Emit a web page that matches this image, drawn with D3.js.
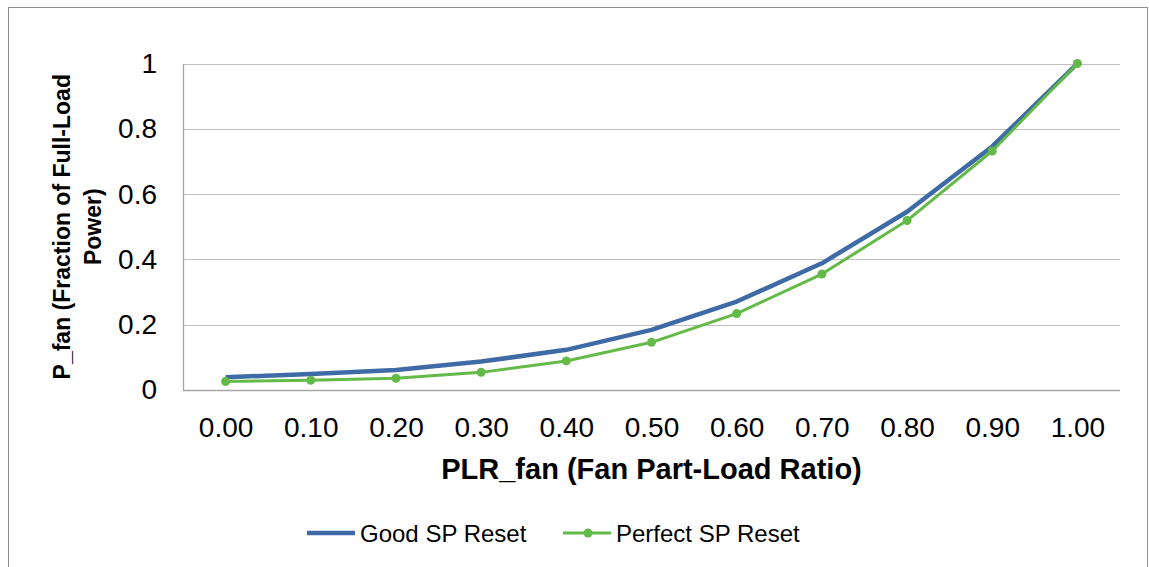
<!DOCTYPE html>
<meta charset="utf-8">
<script src="https://d3js.org/d3.v7.min.js"></script>
<style>
  body { margin: 0; background: #fff; font-family: Arial, 'Liberation Sans', sans-serif; }
  svg text { fill: #000; }
</style>
<body>
<svg id="chart" width="1149" height="567"></svg>
</body>
<script>
// chart data
var plr = ["0.00", "0.10", "0.20", "0.30", "0.40", "0.50", "0.60", "0.70", "0.80", "0.90", "1.00"];
var goodReset = [0.039, 0.049, 0.061, 0.087, 0.123, 0.184, 0.271, 0.388, 0.546, 0.746, 1.0];
var perfectReset = [0.026, 0.030, 0.036, 0.054, 0.089, 0.146, 0.234, 0.355, 0.519, 0.732, 1.0];
var yTicks = [0, 0.2, 0.4, 0.6, 0.8, 1];

var blue = "#3e6aa6", green = "#63ba48";

var svg = d3.select("#chart");

// outer chart border
svg.append("rect")
  .attr("x", 8.5).attr("y", 7.5)
  .attr("width", 1139).attr("height", 600)
  .attr("fill", "none").attr("stroke", "#8e8e8e").attr("stroke-width", 1);

var margin = {top: 63.5, left: 183, right: 1120, bottom: 390};

var x = d3.scalePoint()
    .domain(plr)
    .range([margin.left, margin.right])
    .padding(0.5);

var y = d3.scaleLinear()
    .domain([0, 1])
    .range([margin.bottom, margin.top]);

// gridlines
svg.append("g")
  .selectAll("line")
  .data(yTicks.filter(function(d) { return d > 0; }))
  .join("line")
    .attr("x1", margin.left).attr("x2", margin.right)
    .attr("y1", function(d) { return Math.round(y(d)) + 0.5; })
    .attr("y2", function(d) { return Math.round(y(d)) + 0.5; })
    .attr("stroke", "#bfbfbf").attr("stroke-width", 1.2);

// y axis labels
var yAxis = svg.append("g")
  .attr("transform", "translate(" + margin.left + ",0)")
  .call(d3.axisLeft(y).tickValues(yTicks).tickSize(0).tickPadding(26).tickFormat(d3.format("~g")));
yAxis.select(".domain").attr("stroke", "#a6a6a6").attr("stroke-width", 1.3);
yAxis.selectAll("text")
  .attr("font-family", "Arial, 'Liberation Sans', sans-serif")
  .attr("font-size", 28)
  .attr("fill", "#000");

// x axis labels
var xAxis = svg.append("g")
  .attr("transform", "translate(0," + margin.bottom + ")")
  .call(d3.axisBottom(x).tickSize(0).tickPadding(27));
xAxis.select(".domain").remove();
svg.append("line")
  .attr("x1", margin.left).attr("x2", margin.right)
  .attr("y1", margin.bottom + 0.5).attr("y2", margin.bottom + 0.5)
  .attr("stroke", "#a6a6a6").attr("stroke-width", 1.3);
xAxis.selectAll("text")
  .attr("font-family", "Arial, 'Liberation Sans', sans-serif")
  .attr("font-size", 28)
  .attr("fill", "#000");

// lines
var line = function(vals) {
  return d3.line()
    .x(function(d, i) { return x(plr[i]); })
    .y(function(d) { return y(d); })(vals);
};

svg.append("path")
  .attr("d", line(goodReset))
  .attr("fill", "none").attr("stroke", blue).attr("stroke-width", 4.5)
  .attr("stroke-linejoin", "round");

svg.append("path")
  .attr("d", line(perfectReset))
  .attr("fill", "none").attr("stroke", green).attr("stroke-width", 3)
  .attr("stroke-linejoin", "round");

svg.append("g")
  .selectAll("circle")
  .data(perfectReset)
  .join("circle")
    .attr("cx", function(d, i) { return x(plr[i]); })
    .attr("cy", function(d) { return y(d); })
    .attr("r", 4.5)
    .attr("fill", green);

// axis titles
svg.append("text")
  .attr("x", (margin.left + margin.right) / 2)
  .attr("y", 479)
  .attr("text-anchor", "middle")
  .attr("font-size", 29).attr("font-weight", "bold")
  .text("PLR_fan (Fan Part-Load Ratio)");

var yTitle = svg.append("text")
  .attr("transform", "translate(0," + ((margin.top + margin.bottom) / 2) + ") rotate(-90)")
  .attr("text-anchor", "middle")
  .attr("font-size", 23).attr("font-weight", "bold");
yTitle.append("tspan").attr("x", 0).attr("y", 70).text("P_fan (Fraction of Full-Load");
yTitle.append("tspan").attr("x", 0).attr("y", 101).text("Power)");

// legend
var legendItems = [
  {name: "Good SP Reset", color: blue, width: 4.5, marker: false, x: 307},
  {name: "Perfect SP Reset", color: green, width: 3, marker: true, x: 563}
];
var legend = svg.append("g")
  .selectAll("g")
  .data(legendItems)
  .join("g")
    .attr("transform", function(d) { return "translate(" + d.x + ",533)"; });
legend.append("line")
  .attr("x1", 0).attr("x2", 48)
  .attr("stroke", function(d) { return d.color; })
  .attr("stroke-width", function(d) { return d.width; });
legend.filter(function(d) { return d.marker; })
  .append("circle")
  .attr("cx", 25).attr("r", 4.5)
  .attr("fill", function(d) { return d.color; });
legend.append("text")
  .attr("x", 53).attr("y", 9)
  .attr("font-size", 24)
  .text(function(d) { return d.name; });
</script>
